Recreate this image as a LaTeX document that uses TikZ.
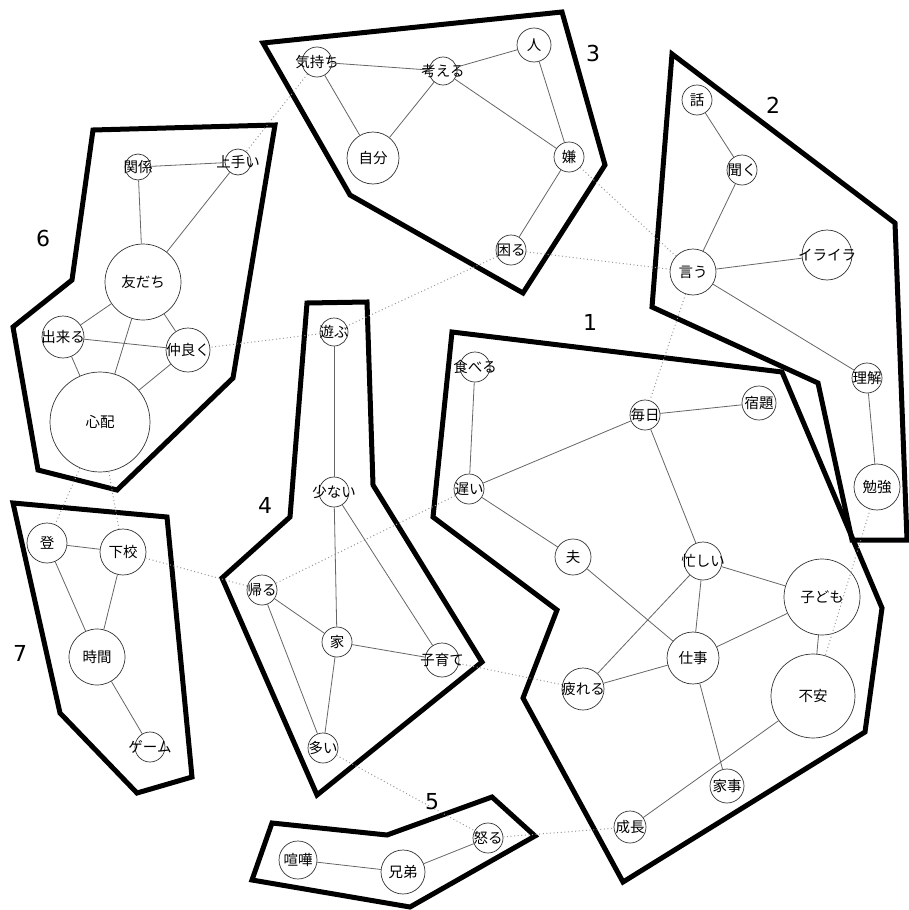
\documentclass[tikz,border=0pt]{standalone}
\usepackage{fontspec}
\newfontfamily\jpfont{Noto Sans CJK JP}
\newfontfamily\numfont{DejaVu Sans}
\tikzset{
  nd/.style={circle, draw=black!80, line width=0.7pt, inner sep=0pt},
  lbl/.style={font=\jpfont\fontsize{14.5}{15}\selectfont, inner sep=0pt, text=black},
  edge/.style={draw=black!60, line width=0.8pt},
  dotline/.style={draw=black!40, line width=1pt, dash pattern=on 1pt off 2.6pt},
  cluster/.style={draw=black, line width=5pt, line join=miter},
  num/.style={font=\numfont\fontsize{22}{24}\selectfont, text=black}
}
\newcommand\Nd[5]{\node[nd, minimum size=#4pt, label={[lbl]center:#5}] (#1) at (#2,#3) {};}
\begin{document}
\begin{tikzpicture}[x=1pt,y=-1pt]
\fill[white] (0,0) rectangle (908,910);
\useasboundingbox (0,0) rectangle (908,910);

% cluster outlines
\draw[cluster] (452,332) -- (782,372) -- (882,608) -- (865,732) -- (623,882) -- (523,698) -- (557,610) -- (433,517) -- cycle;
\draw[cluster] (672,54) -- (895,223) -- (907,540) -- (852,540) -- (818,383) -- (652,307) -- cycle;
\draw[cluster] (263,43) -- (562,12) -- (605,165) -- (523,293) -- (350,195) -- cycle;
\draw[cluster] (307,303) -- (367,302) -- (373,485) -- (482,662) -- (317,795) -- (222,578) -- (290,517) -- cycle;
\draw[cluster] (272,823) -- (387,835) -- (492,797) -- (535,836) -- (410,907) -- (252,880) -- cycle;
\draw[cluster] (93,130) -- (275,125) -- (233,378) -- (117,490) -- (38,470) -- (13,327) -- (72,280) -- cycle;
\draw[cluster] (13,503) -- (167,517) -- (192,777) -- (137,793) -- (60,713) -- cycle;

% cluster numbers
\node[num] (n1) at (590,322) {1};
\node[num] (n2) at (773,105) {2};
\node[num] (n3) at (593,53) {3};
\node[num] (n4) at (265,505) {4};
\node[num] (n5) at (432,802) {5};
\node[num] (n6) at (43,238) {6};
\node[num] (n7) at (20,653) {7};

% group 3
\Nd{kimochi}{317}{62}{30}{気持ち}
\Nd{kangaeru}{443}{71}{28}{考える}
\Nd{hito}{534}{45}{34}{人}
\Nd{jibun}{373}{158}{52}{自分}
\Nd{iya}{569}{157}{30}{嫌}
\Nd{komaru}{511}{250}{30}{困る}
% group 2
\Nd{hanashi}{697}{100}{30}{話}
\Nd{kiku}{742}{170}{30}{聞く}
\Nd{iu}{693}{272}{46}{言う}
\Nd{iraira}{827}{255}{50}{イライラ}
\Nd{rikai}{867}{378}{30}{理解}
\Nd{benkyo}{877}{487}{46}{勉強}
% group 6
\Nd{kankei}{138}{167}{26}{関係}
\Nd{jouzu}{238}{162}{26}{上手い}
\Nd{tomodachi}{143}{282}{76}{友だち}
\Nd{dekiru}{63}{337}{42}{出来る}
\Nd{nakayoku}{188}{350}{44}{仲良く}
\Nd{shinpai}{100}{422}{100}{心配}
% group 1
\Nd{taberu}{475}{367}{30}{食べる}
\Nd{mainichi}{645}{415}{30}{毎日}
\Nd{shukudai}{759}{403}{34}{宿題}
\Nd{osoi}{469}{489}{30}{遅い}
\Nd{otto}{573}{557}{36}{夫}
\Nd{isogashii}{703}{561}{38}{忙しい}
\Nd{kodomo}{822}{597}{76}{子ども}
\Nd{shigoto}{693}{658}{52}{仕事}
\Nd{tsukareru}{583}{689}{42}{疲れる}
\Nd{fuan}{813}{696}{84}{不安}
\Nd{kaji}{727}{786}{34}{家事}
\Nd{seichou}{630}{827}{32}{成長}
% group 4
\Nd{asobu}{334}{332}{28}{遊ぶ}
\Nd{sukunai}{334}{492}{30}{少ない}
\Nd{kaeru}{262}{590}{30}{帰る}
\Nd{ie}{337}{642}{30}{家}
\Nd{kosodate}{442}{660}{34}{子育て}
\Nd{ooi}{323}{748}{30}{多い}
% group 7
\Nd{nobori}{47}{543}{40}{登}
\Nd{gekou}{123}{552}{46}{下校}
\Nd{jikan}{97}{657}{56}{時間}
\Nd{game}{150}{747}{30}{ゲーム}
% group 5
\Nd{kenka}{298}{860}{38}{喧嘩}
\Nd{kyoudai}{403}{872}{44}{兄弟}
\Nd{okoru}{488}{838}{30}{怒る}

% dotted links between groups
\draw[dotline] (kimochi) -- (jouzu);
\draw[dotline] (iya) -- (iu);
\draw[dotline] (komaru) -- (iu);
\draw[dotline] (komaru) -- (asobu);
\draw[dotline] (asobu) -- (nakayoku);
\draw[dotline] (iu) -- (mainichi);
\draw[dotline] (benkyo) -- (fuan);
\draw[dotline] (osoi) -- (kaeru);
\draw[dotline] (kaeru) -- (gekou);
\draw[dotline] (kosodate) -- (tsukareru);
\draw[dotline] (ooi) -- (okoru);
\draw[dotline] (okoru) -- (seichou);
\draw[dotline] (shinpai) -- (nobori);
\draw[dotline] (shinpai) -- (gekou);

% group 3 edges
\draw[edge] (kimochi) -- (kangaeru);
\draw[edge] (kimochi) -- (jibun);
\draw[edge] (kangaeru) -- (jibun);
\draw[edge] (kangaeru) -- (hito);
\draw[edge] (kangaeru) -- (iya);
\draw[edge] (hito) -- (iya);
\draw[edge] (iya) -- (komaru);
% group 2 edges
\draw[edge] (hanashi) -- (kiku);
\draw[edge] (kiku) -- (iu);
\draw[edge] (iu) -- (iraira);
\draw[edge] (iu) -- (rikai);
\draw[edge] (rikai) -- (benkyo);
% group 6 edges
\draw[edge] (kankei) -- (jouzu);
\draw[edge] (kankei) -- (tomodachi);
\draw[edge] (jouzu) -- (tomodachi);
\draw[edge] (tomodachi) -- (dekiru);
\draw[edge] (tomodachi) -- (nakayoku);
\draw[edge] (tomodachi) -- (shinpai);
\draw[edge] (dekiru) -- (nakayoku);
\draw[edge] (dekiru) -- (shinpai);
\draw[edge] (nakayoku) -- (shinpai);
% group 1 edges
\draw[edge] (taberu) -- (osoi);
\draw[edge] (osoi) -- (mainichi);
\draw[edge] (mainichi) -- (shukudai);
\draw[edge] (mainichi) -- (isogashii);
\draw[edge] (osoi) -- (otto);
\draw[edge] (otto) -- (shigoto);
\draw[edge] (isogashii) -- (shigoto);
\draw[edge] (isogashii) -- (kodomo);
\draw[edge] (isogashii) -- (tsukareru);
\draw[edge] (shigoto) -- (tsukareru);
\draw[edge] (shigoto) -- (kodomo);
\draw[edge] (shigoto) -- (kaji);
\draw[edge] (kodomo) -- (fuan);
\draw[edge] (fuan) -- (seichou);
% group 4 edges
\draw[edge] (asobu) -- (sukunai);
\draw[edge] (sukunai) -- (ie);
\draw[edge] (sukunai) -- (kosodate);
\draw[edge] (kaeru) -- (ie);
\draw[edge] (kaeru) -- (ooi);
\draw[edge] (ie) -- (ooi);
\draw[edge] (ie) -- (kosodate);
% group 7 edges
\draw[edge] (nobori) -- (gekou);
\draw[edge] (nobori) -- (jikan);
\draw[edge] (gekou) -- (jikan);
\draw[edge] (jikan) -- (game);
% group 5 edges
\draw[edge] (kenka) -- (kyoudai);
\draw[edge] (kyoudai) -- (okoru);
\end{tikzpicture}
\end{document}
